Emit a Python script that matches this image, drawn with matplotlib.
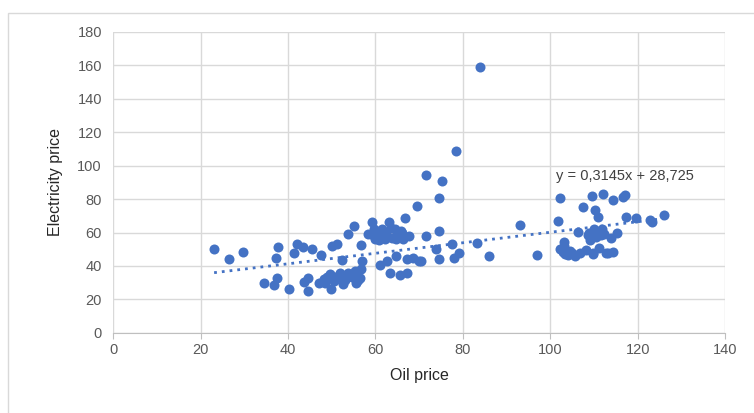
import numpy as np
import matplotlib
matplotlib.use("Agg")
from matplotlib import pyplot as plt

plt.rcParams['font.family'] = ['Liberation Sans', 'DejaVu Sans']

# oil price vs electricity price
oil_price = [
    23.1, 26.6, 29.7, 34.5, 36.9, 37.4, 37.2, 37.6, 40.2, 41.4,
    42.0, 43.5, 43.6, 44.6, 44.6, 45.5, 47.0, 47.5, 48.5, 49.0,
    50.1, 49.8, 51.2, 50.4, 51.4, 52.3, 52.8, 53.6, 55.0, 55.5,
    56.4, 56.7, 56.9, 56.6, 56.1, 59.1, 59.7, 60.0, 61.1, 61.6,
    62.2, 62.7, 63.0, 63.3, 64.4, 64.6, 64.7, 65.5, 66.0, 66.3,
    66.8, 67.1, 67.7, 67.1, 69.6, 69.9, 71.5, 71.6, 73.9, 74.5,
    74.5, 74.6, 75.1, 77.6, 78.0, 78.4, 79.2, 83.1, 83.9, 85.9,
    93.1, 97.0, 101.8, 102.3, 102.1, 103.1, 103.4, 105.6, 106.2, 107.5,
    108.1, 108.9, 109.5, 109.7, 110.3, 110.5, 110.9, 111.1, 111.7, 112.0,
    112.2, 112.6, 114.4, 114.4, 115.3, 116.6, 117.0, 117.2, 119.6, 123.2,
    126.0,
    # dense clusters
    49.5, 50.8, 51.9, 53.0, 54.2, 55.2, 53.8, 48.2, 52.5, 54.6,
    59.5, 60.5, 61.0, 62.5, 63.8, 65.2, 60.8, 63.5, 61.9, 65.8,
    102.8, 104.0, 105.0, 106.8, 108.5, 109.0, 110.0, 111.5, 113.2, 103.0,
    109.8, 110.8, 113.8, 104.5, 122.8, 58.2, 68.5, 70.3,
]
electricity_price = [
    50.4, 44.0, 48.4, 30.0, 28.4, 33.0, 45.0, 51.6, 26.0, 48.0,
    53.4, 51.6, 30.4, 33.0, 24.8, 50.4, 29.8, 46.8, 30.0, 33.4,
    52.0, 26.0, 53.4, 31.0, 34.0, 43.4, 33.0, 59.0, 64.0, 30.0,
    33.0, 52.6, 43.0, 38.4, 31.4, 66.4, 62.0, 56.0, 40.4, 62.0,
    56.0, 43.0, 66.4, 36.0, 62.0, 56.0, 46.0, 34.4, 60.0, 56.0,
    68.8, 36.0, 58.0, 44.4, 76.0, 43.2, 94.6, 58.2, 50.4, 60.8,
    44.0, 80.8, 90.8, 53.0, 45.0, 108.6, 47.6, 54.0, 158.8, 46.0,
    64.4, 46.6, 67.0, 80.8, 50.4, 54.4, 47.0, 46.0, 60.6, 75.0,
    49.6, 60.0, 81.6, 47.0, 73.6, 57.6, 69.0, 51.0, 62.0, 83.0,
    59.0, 47.6, 48.6, 79.4, 60.0, 81.0, 82.6, 69.0, 68.6, 66.4,
    70.4,
    35.0, 32.0, 36.0, 31.5, 34.5, 37.0, 35.5, 32.5, 29.5, 33.5,
    58.5, 60.0, 57.5, 59.0, 57.0, 60.5, 55.5, 62.5, 58.0, 61.0,
    48.5, 46.5, 47.5, 48.0, 58.5, 55.5, 62.0, 58.5, 47.5, 52.0,
    48.0, 60.5, 57.0, 49.0, 67.5, 59.0, 45.0, 43.0,
]

slope, intercept = 0.3145, 28.725

fig = plt.figure(figsize=(7.54, 4.13), dpi=100)
ax = fig.add_axes([0.150, 0.194, 0.812, 0.729])

ax.scatter(oil_price, electricity_price, s=52, color='#4472C4', zorder=3, linewidths=0)

xs = np.array([min(oil_price), max(oil_price)])
ax.plot(xs, slope * xs + intercept, linestyle=(0, (1, 1.8)), color='#4472C4',
        linewidth=2, zorder=2)
ax.text(101.3, 94, 'y = 0,3145x + 28,725', fontsize=10.5, color='#404040',
        va='center', ha='left')

ax.set_xlim(0, 140)
ax.set_ylim(0, 180)
ax.set_xticks(range(0, 141, 20))
ax.set_yticks(range(0, 181, 20))
ax.grid(True, color='#D9D9D9', linewidth=1)
ax.set_axisbelow(True)
for side in ['top', 'right', 'left']:
    ax.spines[side].set_visible(False)
ax.spines['bottom'].set_color('#BFBFBF')
ax.tick_params(axis='x', colors='#BFBFBF', length=4, labelcolor='#595959', labelsize=10.5)
ax.tick_params(axis='y', length=0, labelcolor='#595959', labelsize=10.5, pad=8)

ax.set_xlabel('Oil price', fontsize=11.5, color='#262626', labelpad=8)
ax.set_ylabel('Electricity price', fontsize=11.5, color='#262626', labelpad=10)

# outer chart border
fig.patches.append(plt.Rectangle((0.011, -0.01), 1.0, 0.978, transform=fig.transFigure,
                                 fill=False, edgecolor='#D9D9D9', linewidth=1))

fig.savefig('out.png', dpi=100)
